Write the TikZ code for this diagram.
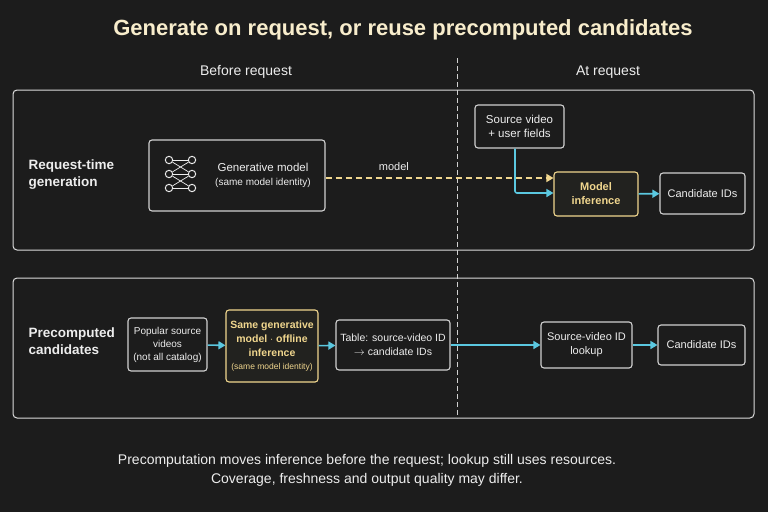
\documentclass[tikz,border=0pt]{standalone}
\usepackage{fontspec}
\setmainfont{Liberation Sans}
\usetikzlibrary{positioning,arrows.meta}
\definecolor{bgc}{HTML}{1C1C1C}
\definecolor{linec}{HTML}{D0D0D0}
\definecolor{goldc}{HTML}{F0D68E}
\definecolor{cyanc}{HTML}{5BC8E0}
\definecolor{textc}{HTML}{EDEDED}
\tikzset{panel/.style =
   {draw=linec!75, rounded corners=4pt, line width=1pt}}
\tikzset{plainbox/.style =
   {draw=linec, rounded corners=3pt, line width=1.1pt,
    text=textc, align=center, font=\fontsize{11}{13}\selectfont,
    inner sep=3pt}}
\tikzset{goldbox/.style =
   {plainbox, draw=goldc, text=goldc, fill=goldc!3!bgc}}
\tikzset{arrow/.style = {draw=cyanc, line width=1.6pt, -{Triangle[length=7pt,width=8pt]}}}
\tikzset{goldarrow/.style = {draw=goldc, line width=1.4pt, dash pattern=on 6pt off 4pt,
    -{Triangle[length=7pt,width=8pt]}}}
\tikzset{rowlabel/.style = {text=textc, align=left, anchor=west,
    font=\fontsize{13.5}{17}\selectfont}}
\begin{document}
\begin{tikzpicture}[x=1pt,y=-1pt]
        \fill[bgc] (0,0) rectangle (768,512);
        \useasboundingbox (0,0) rectangle (768,512);

        \node [text=goldc!45!white, font=\bfseries\fontsize{22}{26}\selectfont] (title) at (403,30)
              {Generate on request, or reuse precomputed candidates};
        \node [text=textc, font=\fontsize{14}{17}\selectfont] (before) at (246,72) {Before request};
        \node [text=textc, font=\fontsize{14}{17}\selectfont] (atreq) at (608,72) {At request};

        \draw [panel] (13,90) rectangle (754,250);
        \draw [panel] (13,278) rectangle (754,418);
        \draw [linec, dash pattern=on 5pt off 3pt, line width=1pt] (457,58) -- (457,418);

        % row 1: request-time generation
        \node [rowlabel] (row1) at (25,175) {\textbf{Request-time}\\\textbf{generation}};
        \node [plainbox, minimum width=176pt, minimum height=71pt] (genmodel) at (237,175.5) {};
        \node [text=textc, align=center, font=\fontsize{11.5}{14}\selectfont] (gentext) at (263,175)
              {Generative model\\{\fontsize{10}{12}\selectfont (same model identity)}};
        \foreach \i in {0,1,2} {
            \node [circle, draw=textc, line width=1pt, inner sep=2.6pt] (l\i) at (169,160+14*\i) {};
            \node [circle, draw=textc, line width=1pt, inner sep=2.6pt] (r\i) at (192,160+14*\i) {};
        }
        \foreach \a/\b in {0/0,0/1,1/0,1/1,1/2,2/1,2/2}
            \draw [textc, line width=0.7pt] (l\a) -- (r\b);

        \node [plainbox, minimum width=89pt, minimum height=43pt, font=\fontsize{11.5}{14}\selectfont]
              (source) at (519.5,126.5) {Source video\\+ user fields};
        \node [goldbox, minimum width=84pt, minimum height=44pt, font=\bfseries\fontsize{11}{14}\selectfont]
              (inference) at (596,194) {Model\\inference};
        \node [plainbox, minimum width=85pt, minimum height=41pt] (cand1) at (702.5,193.5) {Candidate IDs};

        \draw [goldarrow] (genmodel.east |- 0,178) -- node [above=3pt, text=textc, font=\fontsize{11}{13}\selectfont, pos=0.3] {model} (inference.west |- 0,178);
        \draw [arrow, rounded corners=2pt] (source.south -| 515,0) |- (inference.west |- 0,193);
        \draw [arrow] (inference) -- (cand1);

        % row 2: precomputed candidates
        \node [rowlabel] (row2) at (25,341) {\textbf{Precomputed}\\\textbf{candidates}};
        \node [plainbox, font=\fontsize{10}{13}\selectfont, minimum width=79pt, minimum height=53pt]
              (popular) at (167.5,344.5) {Popular source\\videos\\(not all catalog)};
        \node [goldbox, minimum width=92pt, minimum height=72pt, font=\bfseries\fontsize{10.5}{14}\selectfont]
              (offline) at (272,346) {Same generative\\model $\cdot$ offline\\inference\\[-1pt]
              {\mdseries\fontsize{8.5}{10}\selectfont (same model identity)}};
        \node [plainbox, font=\fontsize{10.5}{14}\selectfont, minimum width=114pt, minimum height=50pt]
              (table) at (393,345) {Table: source-video ID\\$\rightarrow$ candidate IDs};
        \node [plainbox, minimum width=91pt, minimum height=46pt, font=\fontsize{11}{14}\selectfont]
              (lookup) at (586.5,345) {Source-video ID\\lookup};
        \node [plainbox, minimum width=87pt, minimum height=40pt] (cand2) at (701.5,345) {Candidate IDs};

        \draw [arrow] (popular) -- (offline);
        \draw [arrow] (offline) -- (table);
        \draw [arrow] (table) -- (lookup);
        \draw [arrow] (lookup) -- (cand2);

        \node [text=textc, align=center, font=\fontsize{14}{19}\selectfont] (footer) at (367,470)
              {Precomputation moves inference before the request; lookup still uses resources.\\
               Coverage, freshness and output quality may differ.};
\end{tikzpicture}
\end{document}
